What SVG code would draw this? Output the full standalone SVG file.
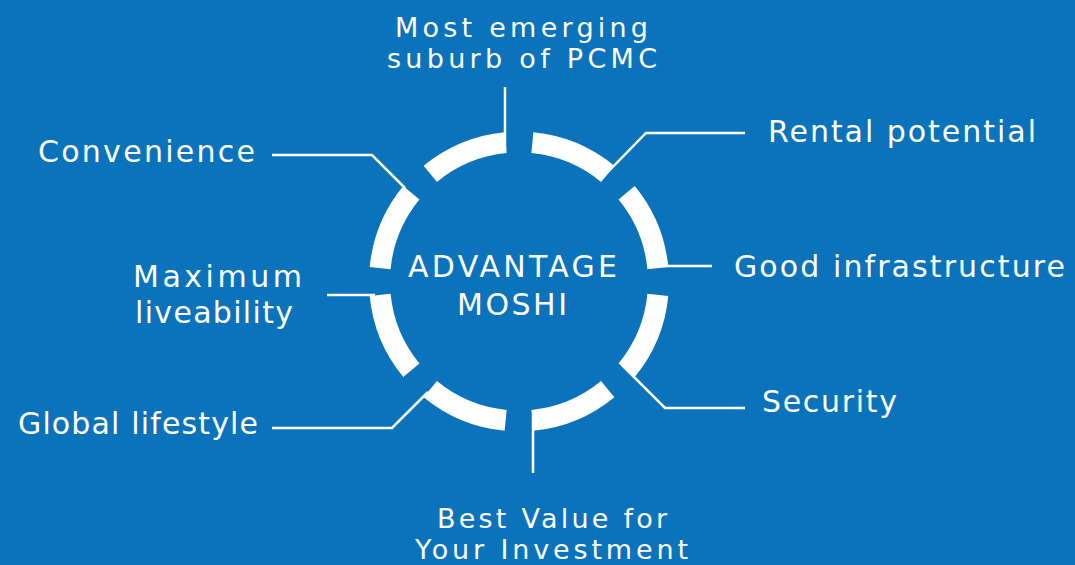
<svg xmlns="http://www.w3.org/2000/svg" width="1075" height="565" viewBox="0 0 1075 565">
<style>
.ring{fill:none;stroke:#fff;stroke-width:21}
.con{fill:none;stroke:#fff;stroke-width:2.5}
text{font-family:"DejaVu Sans","Noto Sans",sans-serif;font-size:30px;fill:#fff}
.m{text-anchor:middle}
.s{font-size:27px}
</style>
<rect width="1075" height="565" fill="#0A73BC"/>
<g id="ring">
<path class="ring" d="M657.86,294.87 A139.5,139.5 0 0 1 626.64,370.23"/>
<path class="ring" d="M607.73,389.14 A139.5,139.5 0 0 1 532.37,420.36"/>
<path class="ring" d="M505.63,420.36 A139.5,139.5 0 0 1 430.27,389.14"/>
<path class="ring" d="M411.36,370.23 A139.5,139.5 0 0 1 380.14,294.87"/>
<path class="ring" d="M380.14,268.13 A139.5,139.5 0 0 1 411.36,192.77"/>
<path class="ring" d="M430.27,173.86 A139.5,139.5 0 0 1 505.63,142.64"/>
<path class="ring" d="M532.37,142.64 A139.5,139.5 0 0 1 607.73,173.86"/>
<path class="ring" d="M626.64,192.77 A139.5,139.5 0 0 1 657.86,268.13"/>
</g>
<g id="connectors">
<path class="con" d="M505,87 V151"/>
<path class="con" d="M603,177 L646,133 H745"/>
<path class="con" d="M660,266 H712"/>
<path class="con" d="M622,365 L665,408 H745"/>
<path class="con" d="M533,415 V473"/>
<path class="con" d="M428,392 L392,428 H272"/>
<path class="con" d="M327,295 H375"/>
<path class="con" d="M272,155 H372 L405,188"/>
</g>
<g id="center">
<text class="m" x="512.5" y="277" textLength="209" lengthAdjust="spacing">ADVANTAGE</text>
<text class="m" x="512" y="315" textLength="110" lengthAdjust="spacing">MOSHI</text>
</g>
<g id="node-top">
<text class="m s" x="521.5" y="37" textLength="253" lengthAdjust="spacing">Most emerging</text>
<text class="m s" x="522" y="68" textLength="270" lengthAdjust="spacing">suburb of PCMC</text>
</g>
<g id="node-rental"><text x="768" y="142" textLength="268" lengthAdjust="spacing">Rental potential</text></g>
<g id="node-infra"><text x="734" y="277" textLength="331" lengthAdjust="spacing">Good infrastructure</text></g>
<g id="node-security"><text x="762" y="412" textLength="135" lengthAdjust="spacing">Security</text></g>
<g id="node-value">
<text class="m s" x="552" y="528" textLength="230" lengthAdjust="spacing">Best Value for</text>
<text class="m s" x="551.5" y="559" textLength="273" lengthAdjust="spacing">Your Investment</text>
</g>
<g id="node-global"><text x="18" y="434" textLength="240" lengthAdjust="spacing">Global lifestyle</text></g>
<g id="node-live">
<text x="133" y="287" textLength="169" lengthAdjust="spacing">Maximum</text>
<text x="135" y="323" textLength="158" lengthAdjust="spacing">liveability</text>
</g>
<g id="node-convenience"><text x="38" y="162" textLength="217" lengthAdjust="spacing">Convenience</text></g>
</svg>
